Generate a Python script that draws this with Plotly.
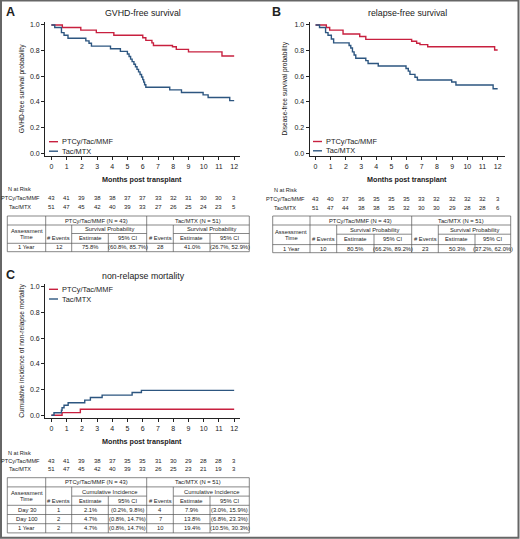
import plotly.graph_objects as go

W, H = 520, 539
NARROW = "Liberation Sans Narrow, Arial Narrow, Liberation Sans, Arial, sans-serif"
REG = "Liberation Sans, Arial, sans-serif"
RED = "#c8203f"
BLUE = "#2d5680"
INK = "#222222"

months = list(range(13))
ytick_vals = [0, 0.2, 0.4, 0.6, 0.8, 1.0]
ytick_text = ["0.0", "0.2", "0.4", "0.6", "0.8", "1.0"]
arm_labels = ["PTCy/Tac/MMF", "Tac/MTX"]

# ---------------- Panel A: GVHD-free survival ----------------
a_ptcy_t = [0, 0.72, 1.93, 2.95, 4.1, 6.0, 6.2, 6.6, 6.7, 7.95, 8.2, 9.0, 11.2, 12.0]
a_ptcy_s = [1.0, 0.98, 0.96, 0.94, 0.92, 0.90, 0.88, 0.86, 0.84, 0.83, 0.81, 0.79, 0.758, 0.758]
a_tac_t = [0, 0.22, 0.66, 0.83, 1.09, 2.26, 2.47, 2.63, 3.88, 4.53, 4.99, 5.1, 5.2, 5.3, 5.42,
           5.52, 5.62, 5.72, 5.82, 5.92, 6.0, 6.06, 6.12, 6.2, 7.77, 8.54, 9.96, 10.29, 11.71, 12.0]
a_tac_s = [1.0, 0.98, 0.94, 0.92, 0.896, 0.876, 0.857, 0.835, 0.815, 0.794, 0.774, 0.754, 0.734, 0.714, 0.694,
           0.674, 0.654, 0.634, 0.614, 0.594, 0.574, 0.554, 0.534, 0.514, 0.494, 0.473, 0.455, 0.434, 0.41, 0.41]
a_risk_ptcy = [43, 41, 39, 38, 38, 37, 37, 33, 32, 31, 30, 30, 3]
a_risk_tac = [51, 47, 45, 42, 40, 39, 33, 27, 26, 25, 24, 23, 5]
a_table_rows = [["1 Year", "12", "75.8%", "(60.8%, 85.7%)", "28", "41.0%", "(26.7%, 52.9%)"]]

# ---------------- Panel B: relapse-free survival ----------------
b_ptcy_t = [0, 0.71, 0.93, 1.81, 2.91, 3.31, 6.33, 6.66, 6.88, 7.39, 11.8, 12.0]
b_ptcy_s = [1.0, 0.98, 0.96, 0.93, 0.91, 0.888, 0.873, 0.857, 0.847, 0.83, 0.805, 0.805]
b_tac_t = [0, 0.26, 0.66, 0.82, 1.04, 1.19, 2.21, 2.32, 2.43, 2.54, 2.65, 3.31, 3.46, 4.13, 5.96,
           6.11, 6.22, 6.55, 6.71, 8.97, 9.25, 11.7, 12.0]
b_tac_s = [1.0, 0.98, 0.94, 0.92, 0.89, 0.86, 0.84, 0.82, 0.79, 0.766, 0.74, 0.722, 0.70, 0.68, 0.66,
           0.64, 0.615, 0.592, 0.571, 0.555, 0.532, 0.503, 0.503]
b_risk_ptcy = [43, 40, 37, 36, 35, 35, 35, 33, 32, 32, 32, 32, 3]
b_risk_tac = [51, 47, 44, 38, 38, 35, 32, 30, 30, 29, 28, 28, 6]
b_table_rows = [["1 Year", "10", "80.5%", "(66.2%, 89.2%)", "23", "50.3%", "(37.2%, 62.0%)"]]

# ---------------- Panel C: non-relapse mortality ----------------
c_ptcy_t = [0, 0.7, 1.9, 12.0]
c_ptcy_c = [0, 0.021, 0.047, 0.047]
c_tac_t = [0, 0.17, 0.66, 0.7, 0.83, 1.1, 2.19, 2.56, 3.33, 5.3, 5.91, 12.0]
c_tac_c = [0, 0.02, 0.039, 0.059, 0.078, 0.098, 0.118, 0.138, 0.157, 0.177, 0.194, 0.194]
c_risk_ptcy = [43, 41, 39, 38, 37, 35, 35, 31, 30, 29, 28, 28, 3]
c_risk_tac = [51, 47, 45, 42, 40, 39, 33, 26, 25, 23, 21, 19, 3]
c_table_rows = [
    ["Day 30", "1", "2.1%", "(0.2%, 9.8%)", "4", "7.9%", "(3.0%, 15.9%)"],
    ["Day 100", "2", "4.7%", "(0.8%, 14.7%)", "7", "13.8%", "(6.8%, 23.3%)"],
    ["1 Year", "2", "4.7%", "(0.8%, 14.7%)", "10", "19.4%", "(10.5%, 30.3%)"],
]


def X(p):
    return p / W


def Y(p):
    return 1 - p / H


fig = go.Figure()
annotations = []
shapes = []


def ann(x, y, text, size, xanchor="center", family=NARROW, bold=False, angle=0, xref="paper", color=INK):
    if bold:
        text = "<b>" + text + "</b>"
    annotations.append(dict(
        x=x if xref != "paper" else X(x), y=Y(y), xref=xref, yref="paper", text=text,
        showarrow=False, xanchor=xanchor, yanchor="middle", textangle=angle,
        font=dict(family=family, size=size, color=color), borderpad=0))


def hline(x0, x1, y, color="#555555", width=0.7):
    shapes.append(dict(type="line", xref="paper", yref="paper", x0=X(x0), x1=X(x1), y0=Y(y), y1=Y(y),
                       line=dict(color=color, width=width)))


def vline(x, y0, y1, color="#555555", width=0.7):
    shapes.append(dict(type="line", xref="paper", yref="paper", x0=X(x), x1=X(x), y0=Y(y0), y1=Y(y1),
                       line=dict(color=color, width=width)))


def add_curves(xa, ya, t1, s1, t2, s2):
    fig.add_trace(go.Scatter(x=t1, y=s1, mode="lines", line=dict(color=RED, width=1.4, shape="hv"),
                             xaxis=xa, yaxis=ya, showlegend=False, name=arm_labels[0]))
    fig.add_trace(go.Scatter(x=t2, y=s2, mode="lines", line=dict(color=BLUE, width=1.4, shape="hv"),
                             xaxis=xa, yaxis=ya, showlegend=False, name=arm_labels[1]))


def add_legend(x_line0, y0, y1):
    for lab, col, yy in [(arm_labels[0], RED, y0), (arm_labels[1], BLUE, y1)]:
        hline(x_line0, x_line0 + 9, yy, color=col, width=1.4)
        ann(x_line0 + 12, yy, lab, 7.4, xanchor="left")


def add_risk(xref, label_cx, nrisk_x, y_n, y1, y2, r1, r2):
    ann(nrisk_x, y_n, "N at Risk", 5.6, xanchor="left")
    ann(label_cx, y1, arm_labels[0], 5.6)
    ann(label_cx, y2, arm_labels[1], 5.6)
    for m, v1, v2 in zip(months, r1, r2):
        ann(m, y1, str(v1), 6, xref=xref)
        ann(m, y2, str(v2), 6, xref=xref)


def add_table(cols, rows, group_head, data_rows):
    c, r = cols, rows
    hline(c[0], c[-1], r[0]); hline(c[0], c[-1], r[-1])
    vline(c[0], r[0], r[-1]); vline(c[-1], r[0], r[-1])
    hline(c[0], c[-1], r[1])
    hline(c[2], c[4], r[2]); hline(c[5], c[7], r[2])
    for rr in r[3:-1]:
        hline(c[0], c[-1], rr)
    vline(c[1], r[0], r[-1]); vline(c[4], r[0], r[-1])
    vline(c[2], r[1], r[-1]); vline(c[5], r[1], r[-1])
    vline(c[3], r[2], r[-1]); vline(c[6], r[2], r[-1])
    fs = 5.8
    mid = lambda a, b: (a + b) / 2
    ann(mid(c[1], c[4]), mid(r[0], r[1]), "PTCy/Tac/MMF (N = 43)", fs)
    ann(mid(c[4], c[7]), mid(r[0], r[1]), "Tac/MTX (N = 51)", fs)
    ann(mid(c[0], c[1]), mid(r[1], r[3]) - 3.2, "Assessment", fs)
    ann(mid(c[0], c[1]), mid(r[1], r[3]) + 3.2, "Time", fs)
    ann(mid(c[2], c[4]), mid(r[1], r[2]), group_head, fs)
    ann(mid(c[5], c[7]), mid(r[1], r[2]), group_head, fs)
    yh = mid(r[2], r[3])
    for a, b, t in [(1, 2, "# Events"), (2, 3, "Estimate"), (3, 4, "95% CI"),
                    (4, 5, "# Events"), (5, 6, "Estimate"), (6, 7, "95% CI")]:
        ann(mid(c[a], c[b]), yh, t, fs)
    for i, row in enumerate(data_rows):
        yy = mid(r[3 + i], r[4 + i])
        for j, val in enumerate(row):
            ann(mid(c[j], c[j + 1]), yy, val, fs)


add_curves("x", "y", a_ptcy_t, a_ptcy_s, a_tac_t, a_tac_s)
add_curves("x2", "y2", b_ptcy_t, b_ptcy_s, b_tac_t, b_tac_s)
add_curves("x3", "y3", c_ptcy_t, c_ptcy_c, c_tac_t, c_tac_c)

axis_common = dict(showline=True, linecolor=INK, linewidth=0.8, ticks="outside", ticklen=3,
                   tickwidth=0.8, tickcolor=INK, showgrid=False, zeroline=False,
                   tickfont=dict(family=NARROW, size=7, color=INK))
xcommon = dict(axis_common, tickmode="array", tickvals=months, ticktext=[str(m) for m in months])
ycommon = dict(axis_common, tickmode="array", tickvals=ytick_vals, ticktext=ytick_text,
               range=[-0.024, 1.02])

dom_y_ab = [Y(156.3), Y(22.4)]
dom_y_c = [Y(418.4), Y(284.1)]

fig.update_layout(
    width=W, height=H, margin=dict(l=0, r=0, t=0, b=0),
    paper_bgcolor="white", plot_bgcolor="white", showlegend=False,
    xaxis=dict(xcommon, domain=[X(45), X(239.5)], range=[-0.42, 12.35], anchor="y"),
    yaxis=dict(ycommon, domain=dom_y_ab, anchor="x"),
    xaxis2=dict(xcommon, domain=[X(309.5), X(504.5)], range=[-0.4, 12.45], anchor="y2"),
    yaxis2=dict(ycommon, domain=dom_y_ab, anchor="x2"),
    xaxis3=dict(xcommon, domain=[X(45), X(239.5)], range=[-0.42, 12.35], anchor="y3"),
    yaxis3=dict(ycommon, domain=dom_y_c, anchor="x3"),
)

ann(10, 12, "A", 12.5, family=REG, bold=True)
ann(276, 12, "B", 12.5, family=REG, bold=True)
ann(10, 275, "C", 12.5, family=REG, bold=True)
ann(143, 12.5, "GVHD-free survival", 8.8, family=REG)
ann(407, 12.5, "relapse-free survival", 8.8, family=REG)
ann(143, 275.5, "non-relapse mortality", 8.8, family=REG)

ann(21.7, 88.5, "GVHD-free survival probability", 6.6, angle=-90)
ann(284, 88.5, "Disease-free survival probability", 6.6, angle=-90)
ann(21.7, 351, "Cumulative incidence of non-relapse mortality", 6.6, angle=-90)
ann(142, 179, "Months post transplant", 7.2, bold=True)
ann(407, 179, "Months post transplant", 7.2, bold=True)
ann(142, 441.7, "Months post transplant", 7.2, bold=True)

add_legend(49, 141.7, 151.2)
add_legend(313, 141.5, 150.8)
add_legend(49, 289.3, 299.0)

add_risk("x", 20, 7, 189, 198.3, 207.3, a_risk_ptcy, a_risk_tac)
add_risk("x2", 285, 273, 190, 199, 207.5, b_risk_ptcy, b_risk_tac)
add_risk("x3", 20, 7, 452.7, 460.7, 468.7, c_risk_ptcy, c_risk_tac)

cols_ac = [7.3, 45.7, 71.7, 108.3, 146.7, 173.3, 210, 249.3]
cols_b = [272.7, 310, 336.7, 374, 411.7, 438.3, 475, 510.7]
add_table(cols_ac, [216, 225, 233.5, 243.3, 251.7], "Survival Probability", a_table_rows)
add_table(cols_b, [216, 225, 234.2, 244.6, 252.7], "Survival Probability", b_table_rows)
add_table(cols_ac, [477.7, 486.9, 496.1, 505.3, 514.5, 523.7, 532.9], "Cumulative Incidence", c_table_rows)

shapes.append(dict(type="rect", xref="paper", yref="paper", x0=X(1), x1=X(518.5), y0=Y(537.8), y1=Y(0.6),
                   line=dict(color="#666666", width=2), fillcolor="rgba(0,0,0,0)"))

fig.update_layout(annotations=annotations, shapes=shapes)
fig.write_html("out.html", config={"displayModeBar": False},
               post_script="document.body.style.margin='0';document.body.style.overflow='hidden';")
